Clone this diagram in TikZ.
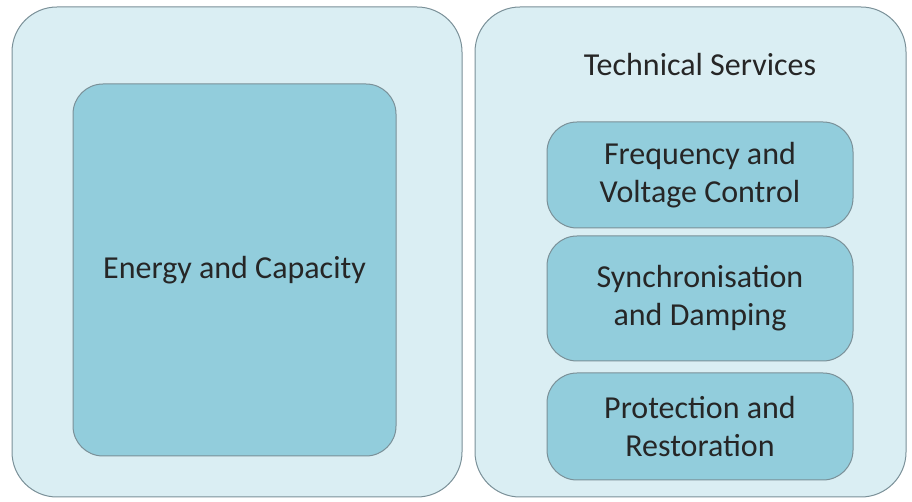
\documentclass[tikz,border=0pt]{standalone}
\usepackage{fontspec}
\setmainfont{Carlito}
\definecolor{paleblue}{HTML}{DAEEF3}
\definecolor{midblue}{HTML}{92CDDC}
\definecolor{edgegrey}{HTML}{7A9098}
\begin{document}
\begin{tikzpicture}[x=1pt, y=1pt,
	panel/.style={draw=edgegrey, fill=paleblue, line width=1pt, rounded corners=45pt, inner sep=0pt},
	item/.style={draw=edgegrey, fill=midblue, line width=1pt, rounded corners=30pt, inner sep=0pt, align=center, font=\fontsize{32}{38}\selectfont, text=black!85}]
	\useasboundingbox (0, 0) rectangle (912, 502);
	\node[panel, minimum width=450pt, minimum height=490pt] (energyPanel) at (237, 250) {};
	\node[panel, minimum width=431pt, minimum height=490pt] (techPanel) at (690.5, 250) {};
	\node[item, minimum width=323pt, minimum height=372pt] (energy) at (234.5, 232) {Energy and Capacity};
	\node[font=\fontsize{32}{38}\selectfont, text=black!85] (techTitle) at (700, 437) {Technical Services};
	\node[item, minimum width=306pt, minimum height=106pt] (freq) at (700, 327) {Frequency and\\Voltage Control};
	\node[item, minimum width=306pt, minimum height=125pt] (sync) at (700, 203.5) {Synchronisation\\and Damping};
	\node[item, minimum width=306pt, minimum height=107pt] (prot) at (700, 75.5) {Protection and\\Restoration};
	%	\node at (690, 250) {};
\end{tikzpicture}
\end{document}
